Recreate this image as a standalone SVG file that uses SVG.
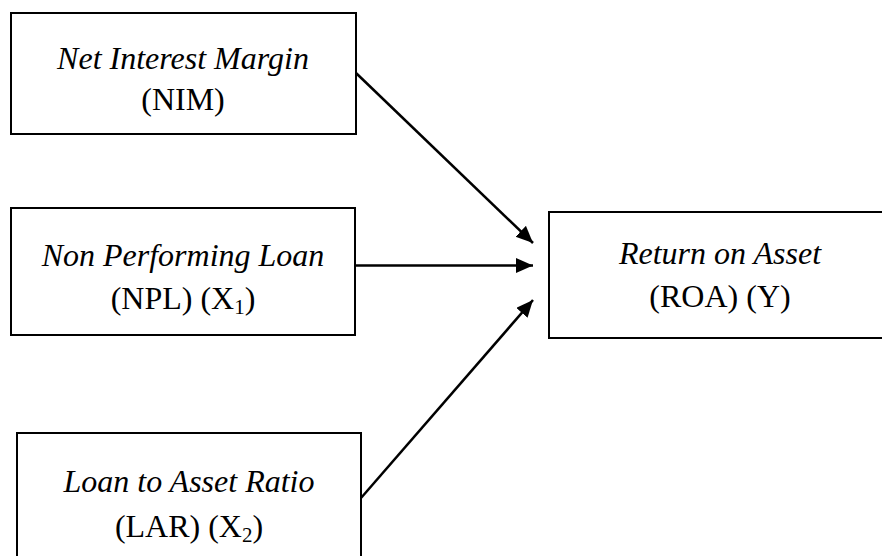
<svg xmlns="http://www.w3.org/2000/svg" width="882" height="556" viewBox="0 0 882 556">
<defs>
<style>
.box{fill:#fff;stroke:#000;stroke-width:2}
.t{font-family:"Liberation Serif","Times New Roman",serif;font-size:32px;fill:#000;text-anchor:middle}
.i{font-style:italic}
.sub{font-size:21px}
.c{stroke:#000;stroke-width:2.5;fill:none;marker-end:url(#ah)}
</style>
<marker id="ah" markerUnits="userSpaceOnUse" markerWidth="18" markerHeight="16" refX="17" refY="7.5" orient="auto">
<path d="M0,0 L17,7.5 L0,15 z" fill="#000"/>
</marker>
</defs>
<rect width="882" height="556" fill="#fff"/>
<g id="nim">
<rect class="box" x="11" y="13" width="345" height="121"/>
<text class="t i" x="183" y="69">Net Interest Margin</text>
<text class="t" x="183" y="110">(NIM)</text>
</g>
<g id="npl">
<rect class="box" x="11" y="208" width="344" height="127"/>
<text class="t i" x="183" y="266">Non Performing Loan</text>
<text class="t" x="183" y="309">(NPL) (X<tspan class="sub" dy="5">1</tspan><tspan dy="-5">)</tspan></text>
</g>
<g id="lar">
<rect class="box" x="17" y="433" width="344" height="130"/>
<text class="t i" x="189" y="492">Loan to Asset Ratio</text>
<text class="t" x="189" y="537">(LAR) (X<tspan class="sub" dy="5">2</tspan><tspan dy="-5">)</tspan></text>
</g>
<g id="roa">
<rect class="box" x="549" y="212" width="345" height="126"/>
<text class="t i" x="720" y="264">Return on Asset</text>
<text class="t" x="720" y="307">(ROA) (Y)</text>
</g>
<g id="connectors">
<line class="c" x1="356" y1="73" x2="533" y2="243"/>
<line class="c" x1="355" y1="265.5" x2="533" y2="265.5"/>
<line class="c" x1="361" y1="498" x2="533" y2="300"/>
</g>
</svg>
